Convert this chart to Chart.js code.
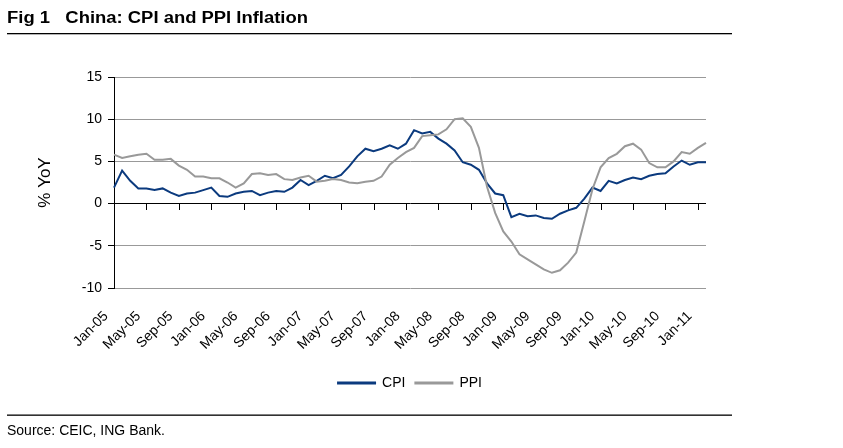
<!DOCTYPE html>
<html><head><meta charset="utf-8">
<script src="https://cdn.jsdelivr.net/npm/chart.js@4.4.1/dist/chart.umd.min.js"></script>
<style>html,body{margin:0;padding:0;background:#fff;}#wrap{position:relative;width:843px;height:448px;}</style>
</head><body><div id="wrap"><canvas id="c" width="843" height="448"></canvas></div>
<script>
const categories = [
 'Jan-05','Feb-05','Mar-05','Apr-05','May-05','Jun-05','Jul-05','Aug-05','Sep-05','Oct-05','Nov-05','Dec-05',
 'Jan-06','Feb-06','Mar-06','Apr-06','May-06','Jun-06','Jul-06','Aug-06','Sep-06','Oct-06','Nov-06','Dec-06',
 'Jan-07','Feb-07','Mar-07','Apr-07','May-07','Jun-07','Jul-07','Aug-07','Sep-07','Oct-07','Nov-07','Dec-07',
 'Jan-08','Feb-08','Mar-08','Apr-08','May-08','Jun-08','Jul-08','Aug-08','Sep-08','Oct-08','Nov-08','Dec-08',
 'Jan-09','Feb-09','Mar-09','Apr-09','May-09','Jun-09','Jul-09','Aug-09','Sep-09','Oct-09','Nov-09','Dec-09',
 'Jan-10','Feb-10','Mar-10','Apr-10','May-10','Jun-10','Jul-10','Aug-10','Sep-10','Oct-10','Nov-10','Dec-10',
 'Jan-11','Feb-11'
];
const cpi = [
 1.9,3.9,2.7,1.8,1.8,1.6,1.8,1.3,0.9,1.2,1.3,1.6,
 1.9,0.9,0.8,1.2,1.4,1.5,1.0,1.3,1.5,1.4,1.9,2.8,
 2.2,2.7,3.3,3.0,3.4,4.4,5.6,6.5,6.2,6.5,6.9,6.5,
 7.1,8.7,8.3,8.5,7.7,7.1,6.3,4.9,4.6,4.0,2.4,1.2,
 1.0,-1.6,-1.2,-1.5,-1.4,-1.7,-1.8,-1.2,-0.8,-0.5,0.6,1.9,
 1.5,2.7,2.4,2.8,3.1,2.9,3.3,3.5,3.6,4.4,5.1,4.6,
 4.9,4.9
];
const ppi = [
 5.8,5.4,5.6,5.8,5.9,5.2,5.2,5.3,4.5,4.0,3.2,3.2,
 3.0,3.0,2.5,1.9,2.4,3.5,3.6,3.4,3.5,2.9,2.8,3.1,
 3.3,2.6,2.7,2.9,2.8,2.5,2.4,2.6,2.7,3.2,4.6,5.4,
 6.1,6.6,8.0,8.1,8.2,8.8,10.0,10.1,9.1,6.6,2.0,-1.1,
 -3.3,-4.5,-6.0,-6.6,-7.2,-7.8,-8.2,-7.9,-7.0,-5.8,-2.1,1.7,
 4.3,5.4,5.9,6.8,7.1,6.4,4.8,4.3,4.3,5.0,6.1,5.9,
 6.6,7.2
];
const yTicks = [-10, -5, 0, 5, 10, 15];
const seriesNames = ['CPI', 'PPI'];
const titleText = 'Fig 1   China: CPI and PPI Inflation';
const sourceText = 'Source: CEIC, ING Bank.';
const yTitle = '% YoY';

const FONT = "'Liberation Sans', Arial, sans-serif";
const decor = {
  id: 'decor',
  beforeDatasetsDraw(chart) {
    const ctx = chart.ctx, x = chart.scales.x, y = chart.scales.y;
    const y0 = Math.round(y.getPixelForValue(0));
    ctx.save();
    ctx.strokeStyle = '#000'; ctx.lineWidth = 1;
    ctx.beginPath();
    categories.forEach((c, i) => {
      if (i % 4 === 0 && i > 0) {
        const px = Math.round(x.getPixelForValue(i)) + 0.5;
        ctx.moveTo(px, y0); ctx.lineTo(px, y0 + 6);
      }
    });
    ctx.stroke();
    ctx.restore();
  },
  afterDraw(chart) {
    const ctx = chart.ctx;
    ctx.save();
    ctx.fillStyle = '#000';
    ctx.font = "bold 16px " + FONT;
    ctx.textBaseline = 'alphabetic';
    const w = ctx.measureText(titleText).width;
    ctx.save();
    ctx.translate(7, 23);
    ctx.scale(301 / w, 1);
    ctx.fillText(titleText, 0, 0);
    ctx.restore();
    ctx.fillRect(7, 33, 725, 1.3);
    ctx.fillRect(7, 414.5, 725, 1.3);
    ctx.font = "14px " + FONT;
    ctx.fillText(sourceText, 7, 435);
    ctx.restore();
  }
};

new Chart(document.getElementById('c'), {
  type: 'line',
  data: {
    labels: categories,
    datasets: [
      {label: seriesNames[0], data: cpi, borderColor: '#0b3a7e', backgroundColor: '#0b3a7e', borderWidth: 2, pointRadius: 0, tension: 0, fill: false, order: 1},
      {label: seriesNames[1], data: ppi, borderColor: '#999999', backgroundColor: '#999999', borderWidth: 2, pointRadius: 0, tension: 0, fill: false, order: 0}
    ]
  },
  options: {
    responsive: false, animation: false, devicePixelRatio: 1,
    layout: {padding: {left: 30, right: 137, top: 77, bottom: 48}},
    plugins: {
      title: {display: false},
      tooltip: {enabled: false},
      legend: {
        position: 'bottom', fullSize: false,
        labels: {boxWidth: 37, boxHeight: 1, padding: 10, color: '#000', font: {family: FONT, size: 14},
          sort: (a, b) => a.datasetIndex - b.datasetIndex}
      }
    },
    scales: {
      x: {
        type: 'category', offset: false,
        grid: {display: false, drawTicks: false},
        border: {display: false},
        ticks: {autoSkip: false, maxRotation: 45, minRotation: 45, padding: 20, labelOffset: -8, color: '#000',
          font: {family: FONT, size: 14},
          callback: (v, i) => (i % 4 === 0 ? categories[i] : '')},
        afterFit: s => { s.height = 78; }
      },
      y: {
        min: yTicks[0], max: yTicks[yTicks.length - 1],
        afterBuildTicks: s => { s.ticks = yTicks.map(v => ({value: v})); },
        ticks: {padding: 6, color: '#000', font: {family: FONT, size: 14}},
        grid: {color: c => (c.tick && c.tick.value === 0 ? '#000' : '#999'), tickColor: '#000', tickLength: 6, drawTicks: true, lineWidth: 1},
        border: {display: true, color: '#000', width: 1},
        title: {display: true, text: yTitle, color: '#000', font: {family: FONT, size: 17}, padding: {top: 5, bottom: 0}},
        afterFit: s => { s.width = 84; }
      }
    }
  },
  plugins: [decor]
});
</script></body></html>
